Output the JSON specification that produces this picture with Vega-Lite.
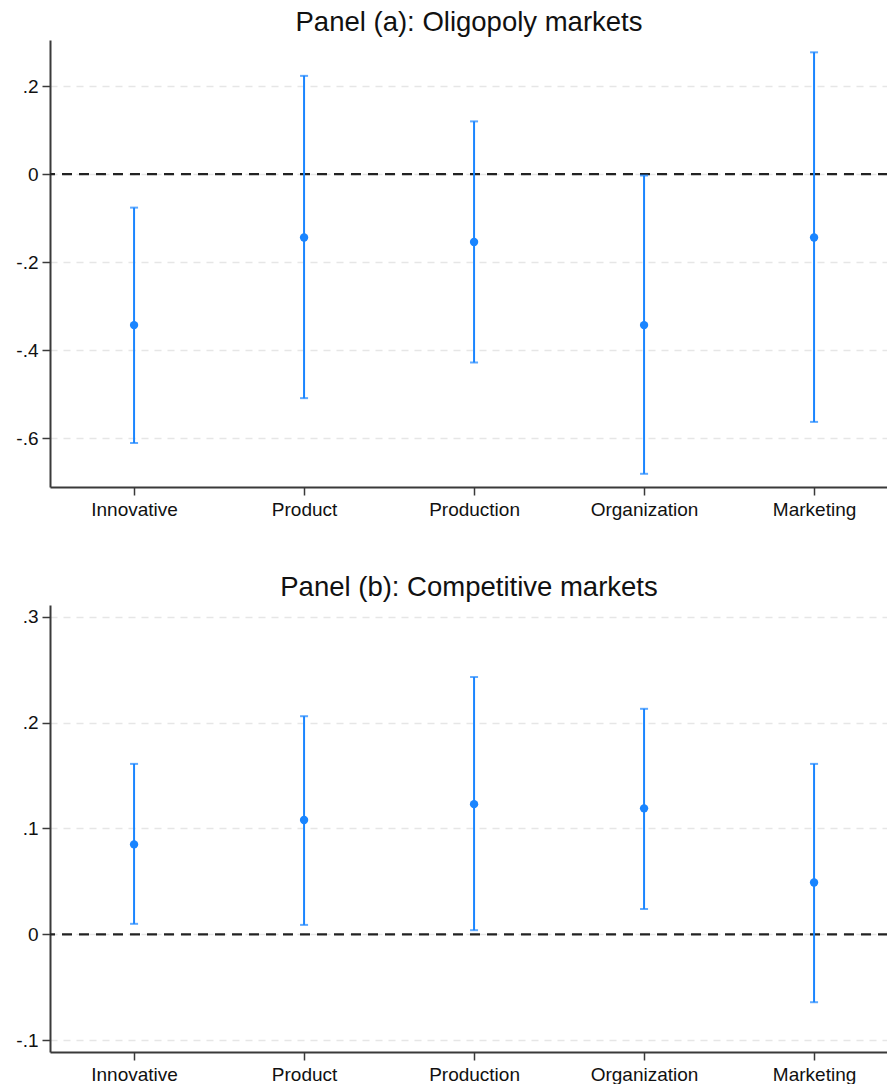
{
  "$schema": "https://vega.github.io/schema/vega-lite/v6.json",
  "background": "white",
  "padding": {"left": 15, "top": 8, "right": 0, "bottom": 0},
  "spacing": 54,
  "datasets": {
    "coef": [
      {"panel": "a", "category": "Innovative", "b": -0.343, "lo": -0.611, "hi": -0.076},
      {"panel": "a", "category": "Product", "b": -0.144, "lo": -0.509, "hi": 0.2235},
      {"panel": "a", "category": "Production", "b": -0.154, "lo": -0.428, "hi": 0.120},
      {"panel": "a", "category": "Organization", "b": -0.343, "lo": -0.681, "hi": -0.003},
      {"panel": "a", "category": "Marketing", "b": -0.144, "lo": -0.563, "hi": 0.277},
      {"panel": "b", "category": "Innovative", "b": 0.085, "lo": 0.010, "hi": 0.161},
      {"panel": "b", "category": "Product", "b": 0.108, "lo": 0.009, "hi": 0.206},
      {"panel": "b", "category": "Production", "b": 0.123, "lo": 0.004, "hi": 0.243},
      {"panel": "b", "category": "Organization", "b": 0.119, "lo": 0.024, "hi": 0.213},
      {"panel": "b", "category": "Marketing", "b": 0.049, "lo": -0.064, "hi": 0.161}
    ],
    "zero": [{"z": 0}]
  },
  "config": {
    "view": {"stroke": null},
    "font": "Liberation Sans",
    "title": {"font": "Liberation Sans", "fontSize": 27.5, "fontWeight": "normal", "color": "#111", "offset": 4, "anchor": "middle"},
    "axis": {
      "labelFont": "Liberation Sans", "labelFontSize": 19, "labelColor": "#111",
      "domainColor": "#3a3a3a", "domainWidth": 2, "tickColor": "#3a3a3a", "tickWidth": 1.5, "tickSize": 8,
      "labelPadding": 4, "title": null
    },
    "axisX": {"labelPadding": 5}
  },
  "vconcat": [
    {
      "title": "Panel (a): Oligopoly markets",
      "width": 838, "height": 447,
      "data": {"name": "coef"},
      "transform": [{"filter": "datum.panel == 'a'"}],
      "layer": [
        {
          "mark": {"type": "rule", "opacity": 0},
          "encoding": {
            "x": {"field": "category", "type": "nominal",
                  "scale": {"type": "point", "domain": ["Innovative", "Product", "Production", "Organization", "Marketing"], "padding": 0.4647, "align": 0.532},
                  "axis": {"labelAngle": 0, "grid": false}},
            "y": {"field": "b", "type": "quantitative",
                  "scale": {"domain": [-0.711, 0.305], "nice": false, "zero": false},
                  "axis": {"values": [-0.6, -0.4, -0.2, 0, 0.2], "grid": true, "gridColor": "#e6e6e6", "gridDash": [7, 6], "gridWidth": 1.5,
                           "labelExpr": "datum.value == 0 ? '0' : replace(replace(format(datum.value, '.1f'), '\u2212', '-'), '0.', '.')"}}
          }
        },
        {
          "data": {"name": "zero"},
          "mark": {"type": "rule", "color": "#222", "strokeWidth": 2.2, "strokeDash": [10, 7]},
          "encoding": {"y": {"field": "z", "type": "quantitative"}}
        },
        {
          "mark": {"type": "rule", "color": "#1a85ff", "strokeWidth": 2},
          "encoding": {"x": {"field": "category", "type": "nominal"}, "y": {"field": "lo", "type": "quantitative"}, "y2": {"field": "hi"}}
        },
        {
          "mark": {"type": "tick", "color": "#1a85ff", "thickness": 2, "size": 8, "orient": "horizontal"},
          "encoding": {"x": {"field": "category", "type": "nominal"}, "y": {"field": "lo", "type": "quantitative"}}
        },
        {
          "mark": {"type": "tick", "color": "#1a85ff", "thickness": 2, "size": 8, "orient": "horizontal"},
          "encoding": {"x": {"field": "category", "type": "nominal"}, "y": {"field": "hi", "type": "quantitative"}}
        },
        {
          "mark": {"type": "point", "filled": true, "color": "#1a85ff", "opacity": 1, "size": 70},
          "encoding": {"x": {"field": "category", "type": "nominal"}, "y": {"field": "b", "type": "quantitative"}}
        }
      ]
    },
    {
      "title": "Panel (b): Competitive markets",
      "width": 838, "height": 447,
      "data": {"name": "coef"},
      "transform": [{"filter": "datum.panel == 'b'"}],
      "layer": [
        {
          "mark": {"type": "rule", "opacity": 0},
          "encoding": {
            "x": {"field": "category", "type": "nominal",
                  "scale": {"type": "point", "domain": ["Innovative", "Product", "Production", "Organization", "Marketing"], "padding": 0.4647, "align": 0.532},
                  "axis": {"labelAngle": 0, "grid": false}},
            "y": {"field": "b", "type": "quantitative",
                  "scale": {"domain": [-0.111, 0.311], "nice": false, "zero": false},
                  "axis": {"values": [-0.1, 0, 0.1, 0.2, 0.3], "grid": true, "gridColor": "#e6e6e6", "gridDash": [7, 6], "gridWidth": 1.5,
                           "labelExpr": "datum.value == 0 ? '0' : replace(replace(format(datum.value, '.1f'), '\u2212', '-'), '0.', '.')"}}
          }
        },
        {
          "data": {"name": "zero"},
          "mark": {"type": "rule", "color": "#222", "strokeWidth": 2.2, "strokeDash": [10, 7]},
          "encoding": {"y": {"field": "z", "type": "quantitative"}}
        },
        {
          "mark": {"type": "rule", "color": "#1a85ff", "strokeWidth": 2},
          "encoding": {"x": {"field": "category", "type": "nominal"}, "y": {"field": "lo", "type": "quantitative"}, "y2": {"field": "hi"}}
        },
        {
          "mark": {"type": "tick", "color": "#1a85ff", "thickness": 2, "size": 8, "orient": "horizontal"},
          "encoding": {"x": {"field": "category", "type": "nominal"}, "y": {"field": "lo", "type": "quantitative"}}
        },
        {
          "mark": {"type": "tick", "color": "#1a85ff", "thickness": 2, "size": 8, "orient": "horizontal"},
          "encoding": {"x": {"field": "category", "type": "nominal"}, "y": {"field": "hi", "type": "quantitative"}}
        },
        {
          "mark": {"type": "point", "filled": true, "color": "#1a85ff", "opacity": 1, "size": 70},
          "encoding": {"x": {"field": "category", "type": "nominal"}, "y": {"field": "b", "type": "quantitative"}}
        }
      ]
    }
  ]
}
